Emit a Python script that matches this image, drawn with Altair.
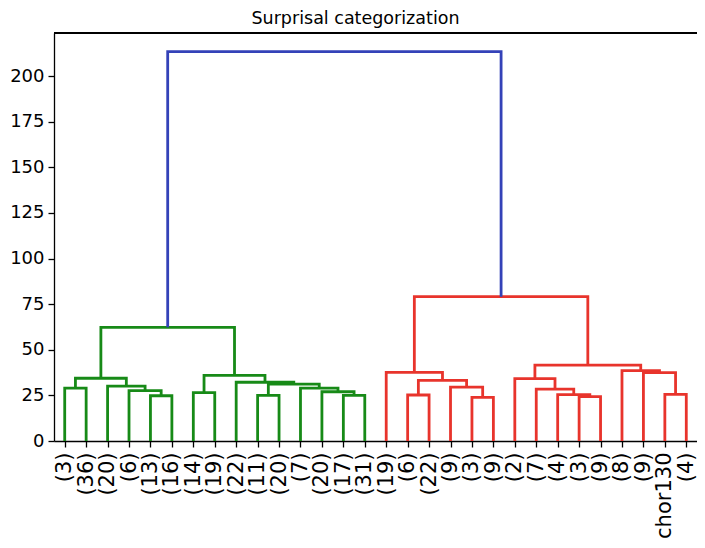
import altair as alt
import pandas as pd

# ---- data ----
leaf_labels = ["(3)", "(36)", "(20)", "(6)", "(13)", "(16)", "(14)", "(19)", "(22)", "(11)",
               "(20)", "(7)", "(20)", "(17)", "(31)", "(19)", "(6)", "(22)", "(9)", "(3)",
               "(9)", "(2)", "(7)", "(4)", "(3)", "(9)", "(8)", "(9)", "chor130", "(4)"]

# merges (scipy style): node ids 0..29 are leaves, 30.. are merges in order
merge_left = [0, 4, 3, 2, 30, 6, 9, 13, 12, 11, 36, 8, 35, 34,
              16, 19, 18, 44, 15, 24, 23, 22, 21, 28, 27, 26, 52, 48, 43]
merge_right = [1, 5, 31, 32, 33, 7, 10, 14, 37, 38, 39, 40, 41, 42,
               17, 20, 45, 46, 47, 25, 49, 50, 51, 29, 53, 54, 55, 56, 57]
merge_height = [29.0, 24.8, 27.6, 30.1, 34.4, 26.5, 25.0, 25.0, 27.0, 29.0, 31.2, 32.2, 36.0, 62.3,
                25.2, 23.9, 29.5, 33.2, 37.6, 24.3, 25.4, 28.4, 34.2, 25.6, 37.5, 38.6, 41.6, 79.1,
                213.4]
merge_group = ["g"] * 14 + ["r"] * 14 + ["b"]

group_names = ["g", "r", "b"]
group_colors = ["#178a17", "#e8342c", "#3442b8"]

y_ticks = [0, 25, 50, 75, 100, 125, 150, 175, 200]

# ---- build the link table ----
n = len(leaf_labels)
xpos = {i: 5 + 10 * i for i in range(n)}
hpos = {i: 0.0 for i in range(n)}
rows = []
for k, (a, b, h, g) in enumerate(zip(merge_left, merge_right, merge_height, merge_group)):
    node = n + k
    pts = [(xpos[a], hpos[a]), (xpos[a], h), (xpos[b], h), (xpos[b], hpos[b])]
    for j, (px, py) in enumerate(pts):
        rows.append({"link": node, "order": j, "x": px, "y": py, "grp": g})
    xpos[node] = (xpos[a] + xpos[b]) / 2
    hpos[node] = h
df = pd.DataFrame(rows)

W, H = 643, 408
leaf_ticks = [5 + 10 * i for i in range(n)]
label_expr = "[" + ",".join("'" + s + "'" for s in leaf_labels) + "][round((datum.value - 5) / 10)]"

lines = alt.Chart(df).mark_line(strokeWidth=2.8, strokeJoin="miter").encode(
    x=alt.X("x:Q", scale=alt.Scale(domain=[0, 300], nice=False, zero=False),
            axis=alt.Axis(values=leaf_ticks, labelExpr=label_expr, labelAngle=270,
                          labelFontSize=21, labelPadding=5, title=None, grid=False,
                          labelOverlap=False, labelFlush=False)),
    y=alt.Y("y:Q", scale=alt.Scale(domain=[0, 223.6], nice=False),
            axis=alt.Axis(values=y_ticks, labelFontSize=18, labelPadding=4, title=None,
                          grid=False)),
    detail="link:N",
    order="order:Q",
    color=alt.Color("grp:N", scale=alt.Scale(domain=group_names, range=group_colors), legend=None),
)

top_spine = alt.Chart(df).mark_rule(color="black", strokeWidth=1.3).encode(
    x=alt.value(0), x2=alt.value(W), y=alt.value(0)
)

chart = alt.layer(lines, top_spine).properties(
    width=W, height=H,
    autosize=alt.AutoSizeParams(type="none"),
    padding={"left": 46, "top": 25, "right": 0, "bottom": 106},
    title=alt.TitleParams("Surprisal categorization", fontSize=17.5, fontWeight="normal",
                          font="DejaVu Sans", color="black", dx=-20, offset=5),
).configure_view(stroke=None).configure_axis(
    labelFont="DejaVu Sans", labelColor="black", domainColor="black", domainWidth=1.3,
    tickColor="black", tickWidth=1.3, tickSize=6,
)

chart.save("out.html", embed_options={"renderer": "svg", "actions": False})
